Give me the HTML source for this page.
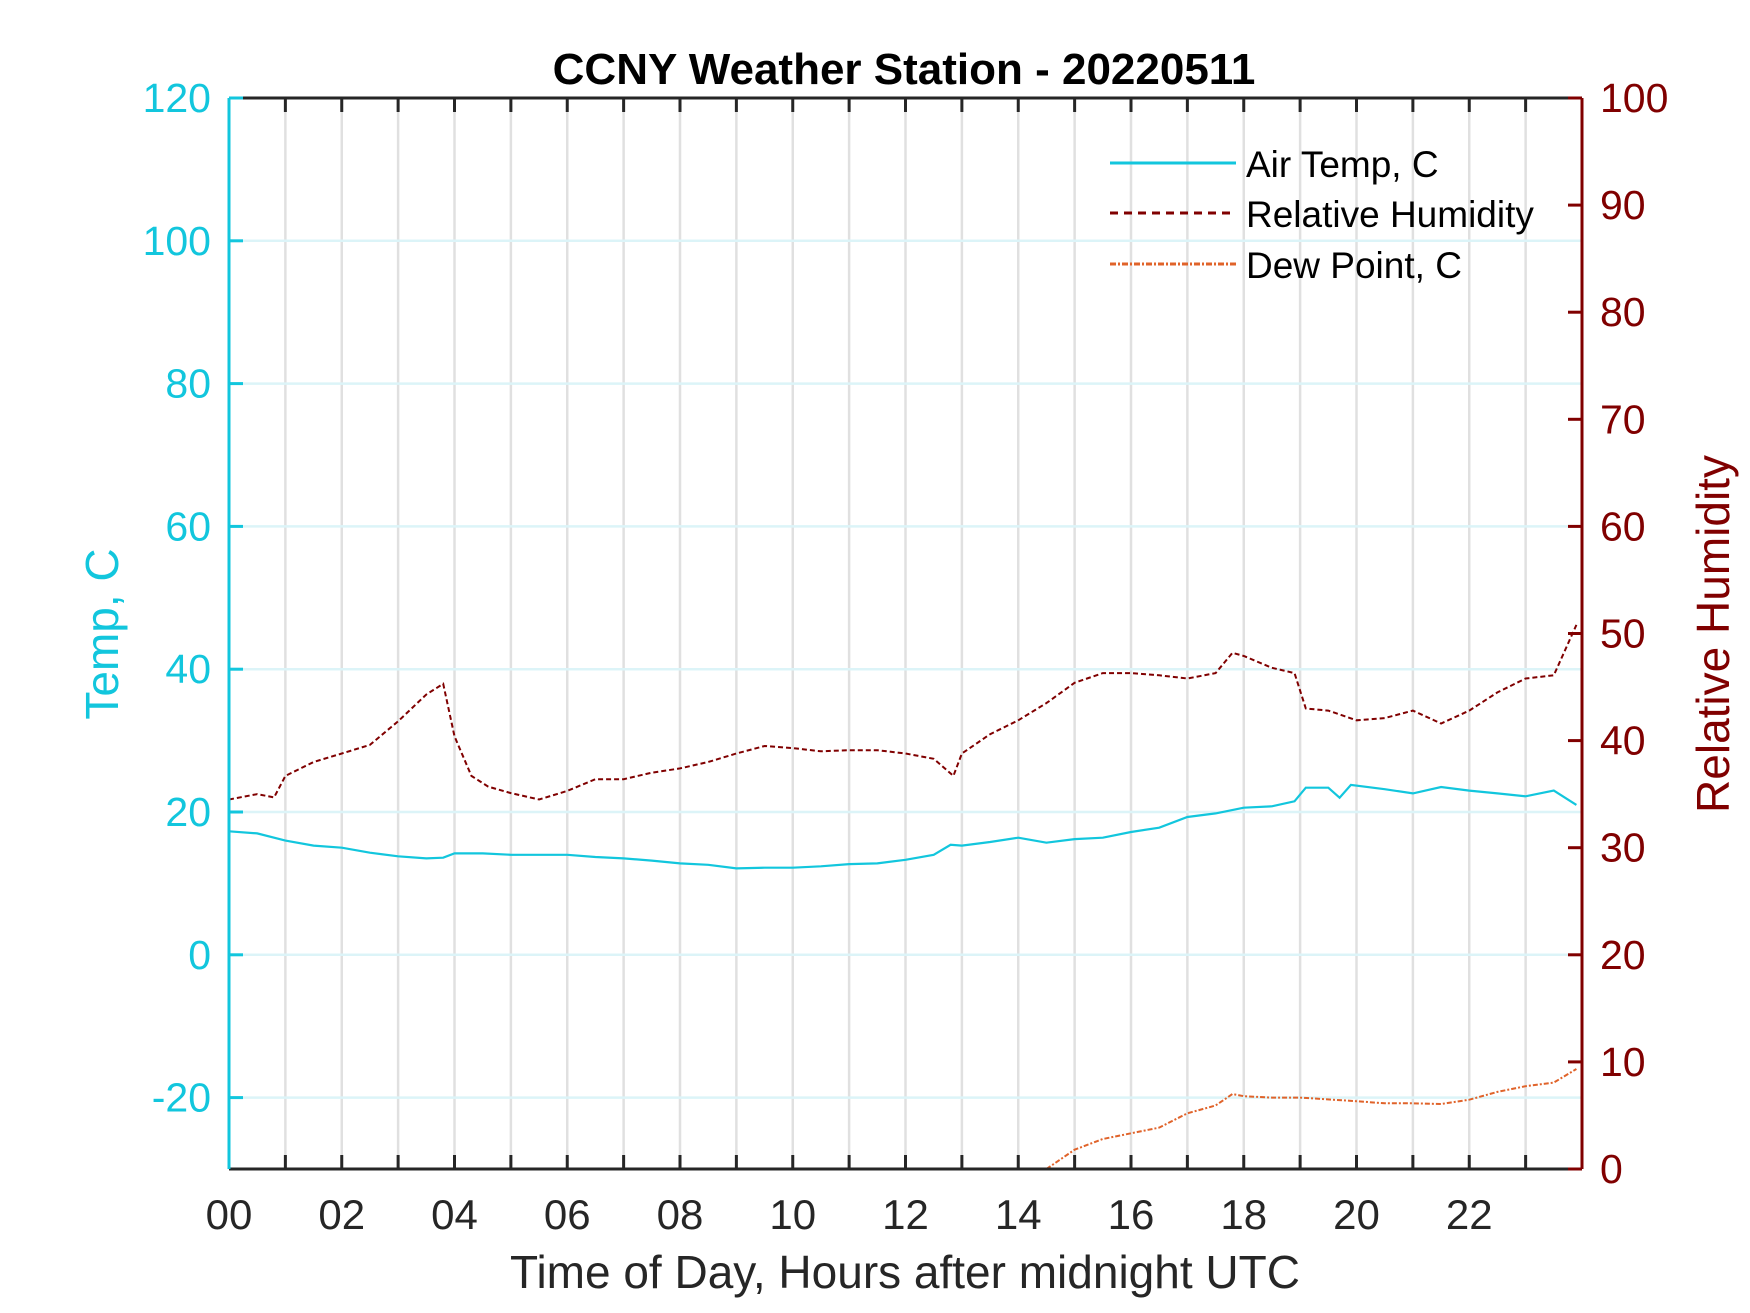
<!DOCTYPE html>
<html><head><meta charset="utf-8"><style>
html,body{margin:0;padding:0;background:#fff;}
svg{display:block;font-family:"Liberation Sans",Arial,sans-serif;}
</style></head><body>
<svg id="chart" width="1750" height="1313" viewBox="0 0 1750 1313" xmlns="http://www.w3.org/2000/svg">
<rect width="1750" height="1313" fill="#fff"/>
<g id="grid"></g>
<g id="series"></g>
<g id="axes"></g>
<text x="904" y="84" text-anchor="middle" font-size="44" font-weight="bold" fill="#000">CCNY Weather Station - 20220511</text>
<text x="905" y="1288" text-anchor="middle" font-size="46" fill="#262626">Time of Day, Hours after midnight UTC</text>
<text transform="translate(118,634) rotate(-90)" text-anchor="middle" font-size="46" fill="#12c6dd">Temp, C</text>
<text transform="translate(1729,634) rotate(-90)" text-anchor="middle" font-size="46" fill="#800000">Relative Humidity</text>
<g>
  <line x1="1110" y1="163" x2="1236" y2="163" stroke="#12c6dd" stroke-width="3"/>
  <text x="1246" y="177" font-size="37" fill="#000">Air Temp, C</text>
  <line x1="1110" y1="213" x2="1236" y2="213" stroke="#800000" stroke-width="3" stroke-dasharray="8,6"/>
  <text x="1246" y="227" font-size="37" fill="#000">Relative Humidity</text>
  <line x1="1110" y1="264" x2="1236" y2="264" stroke="#e0632a" stroke-width="3" stroke-dasharray="6,2,2,2"/>
  <text x="1246" y="278" font-size="37" fill="#000">Dew Point, C</text>
</g>
</svg>
<script>
const hoursT=[0,0.5,1,1.5,2,2.5,3,3.5,3.8,4,4.5,5,5.5,6,6.5,7,7.5,8,8.5,9,9.5,10,10.5,11,11.5,12,12.5,12.8,13,13.5,14,14.5,15,15.5,16,16.5,17,17.5,18,18.5,18.9,19.1,19.5,19.7,19.9,20.5,21,21.5,22,22.5,23,23.5,23.9];
const airTemp=[17.3,17,16,15.3,15,14.3,13.8,13.5,13.6,14.2,14.2,14,14,14,13.7,13.5,13.2,12.8,12.6,12.1,12.2,12.2,12.4,12.7,12.8,13.3,14,15.4,15.3,15.8,16.4,15.7,16.2,16.4,17.2,17.8,19.3,19.8,20.6,20.8,21.5,23.4,23.4,22,23.8,23.2,22.6,23.5,23,22.6,22.2,23,21];
const hoursRH=[0,0.5,0.8,1,1.5,2,2.5,3,3.5,3.8,4,4.3,4.6,5,5.5,6,6.5,7,7.5,8,8.5,9,9.5,10,10.5,11,11.5,12,12.5,12.85,13,13.5,14,14.5,15,15.5,16,16.5,17,17.5,17.8,18,18.5,18.9,19.1,19.5,20,20.5,21,21.5,22,22.5,23,23.5,23.9];
const relHum=[34.5,35,34.7,36.7,38,38.8,39.6,41.8,44.3,45.3,40.4,36.7,35.7,35.1,34.5,35.3,36.4,36.4,37,37.4,38,38.8,39.5,39.3,39,39.1,39.1,38.8,38.3,36.7,38.8,40.6,41.9,43.5,45.4,46.3,46.3,46.1,45.8,46.3,48.2,47.9,46.8,46.3,43,42.8,41.9,42.1,42.8,41.6,42.8,44.5,45.8,46.1,50.8];
const hoursDP=[14.5,15,15.5,16,16.5,17,17.5,17.8,18,18.5,19,20,20.5,21,21.5,22,22.5,23,23.5,23.9];
const dewPoint=[-30,-27.3,-25.8,-25,-24.2,-22.2,-21.1,-19.5,-19.8,-20,-20,-20.5,-20.8,-20.8,-20.9,-20.3,-19.2,-18.4,-17.9,-16];
const xTicks=[0,2,4,6,8,10,12,14,16,18,20,22];
const xTickLabels=["00","02","04","06","08","10","12","14","16","18","20","22"];
const leftTicks=[-20,0,20,40,60,80,100,120];
const rightTicks=[0,10,20,30,40,50,60,70,80,90,100];

const L=229,R=1582,T=98,B=1169;
const x=h=>L+h*(R-L)/24;
const yT=c=>T+(120-c)*(B-T)/150;
const yRH=r=>T+(100-r)*(B-T)/100;
const NS="http://www.w3.org/2000/svg";
function mk(tag,parent,attrs){const e=document.createElementNS(NS,tag);for(const k in attrs)e.setAttribute(k,attrs[k]);parent.appendChild(e);return e;}
const grid=document.getElementById('grid'),axes=document.getElementById('axes'),series=document.getElementById('series');

for(let h=1;h<24;h++){
  const g=mk('line',grid,{x1:x(h),y1:T,x2:x(h),y2:B,stroke:'#e0e0e0','stroke-width':2.5});
  
  
}
leftTicks.forEach(v=>{
  if(v===120)return;
  const g=mk('line',grid,{x1:L,y1:yT(v),x2:R,y2:yT(v),stroke:'#dcf4f8','stroke-width':2.5});
  
  
});

function poly(xs,ys,fy,attrs,name){
  const pts=xs.map((h,i)=>x(h).toFixed(1)+','+fy(ys[i]).toFixed(1)).join(' ');
  const p=mk('polyline',series,Object.assign({points:pts,fill:'none'},attrs));
  
  
}
poly(hoursT,airTemp,yT,{stroke:'#12c6dd','stroke-width':2.2},'air-temp-line');
poly(hoursRH,relHum,yRH,{stroke:'#800000','stroke-width':2,'stroke-dasharray':'5,3'},'rh-line');
poly(hoursDP,dewPoint,yT,{stroke:'#e0632a','stroke-width':2,'stroke-dasharray':'5,2,2,2'},'dew-point-line');

let f=mk('line',axes,{x1:L,y1:T,x2:R,y2:T,stroke:'#262626','stroke-width':3});

f=mk('line',axes,{x1:L,y1:B,x2:R,y2:B,stroke:'#262626','stroke-width':3});

f=mk('line',axes,{x1:L,y1:T,x2:L,y2:B,stroke:'#12c6dd','stroke-width':3});

f=mk('line',axes,{x1:R,y1:T,x2:R,y2:B,stroke:'#800000','stroke-width':3});


for(let h=1;h<24;h++){
  mk('line',axes,{x1:x(h),y1:T,x2:x(h),y2:T+14,stroke:'#262626','stroke-width':3});
  mk('line',axes,{x1:x(h),y1:B,x2:x(h),y2:B-14,stroke:'#262626','stroke-width':3});
}
xTicks.forEach((h,i)=>{
  const t=mk('text',axes,{x:x(h),y:1229,'text-anchor':'middle','font-size':42,fill:'#262626'});
  t.textContent=xTickLabels[i];
  
  
});
leftTicks.forEach(v=>{
  mk('line',axes,{x1:L,y1:yT(v),x2:L+14,y2:yT(v),stroke:'#12c6dd','stroke-width':3});
  const t=mk('text',axes,{x:L-18,y:yT(v)+14,'text-anchor':'end','font-size':41,fill:'#12c6dd'});
  t.textContent=String(v);
  
  
});
rightTicks.forEach(v=>{
  mk('line',axes,{x1:R,y1:yRH(v),x2:R-14,y2:yRH(v),stroke:'#800000','stroke-width':3});
  const t=mk('text',axes,{x:R+18,y:yRH(v)+14,'text-anchor':'start','font-size':41,fill:'#800000'});
  t.textContent=String(v);
  
  
});
</script>
</body></html>
